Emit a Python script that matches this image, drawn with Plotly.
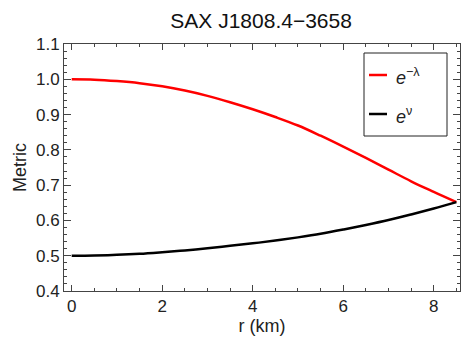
import plotly.graph_objects as go

r_km = [0, 0.5, 1, 1.5, 2, 2.5, 3, 3.5, 4, 4.5, 5, 5.5, 6, 6.5, 7, 7.5, 8, 8.5]
e_minus_lambda = [1.000, 0.999, 0.995, 0.989, 0.980, 0.968, 0.953, 0.935, 0.915,
                  0.893, 0.869, 0.840, 0.809, 0.777, 0.744, 0.711, 0.681, 0.652]
e_nu = [0.500, 0.5007, 0.5025, 0.5055, 0.510, 0.515, 0.521, 0.528, 0.535,
        0.543, 0.552, 0.562, 0.574, 0.587, 0.601, 0.617, 0.634, 0.652]
legend_labels = ["<i>e</i><sup>−λ</sup>", "<i>e</i><sup>ν</sup>"]
legend_colors = ["#ff0000", "#000000"]

font_family = "Liberation Sans, Arial, sans-serif"
frame_col = "#444444"
x_range = [-0.17, 8.58]
y_range = [0.4, 1.1]

fig = go.Figure()
fig.add_trace(go.Scatter(x=r_km, y=e_minus_lambda, mode="lines",
                         line=dict(color=legend_colors[0], width=2.5, shape="spline"),
                         name=legend_labels[0], showlegend=False))
fig.add_trace(go.Scatter(x=r_km, y=e_nu, mode="lines",
                         line=dict(color=legend_colors[1], width=2.5, shape="spline"),
                         name=legend_labels[1], showlegend=False))
# invisible trace to activate the mirrored axes
fig.add_trace(go.Scatter(x=[x_range[0]], y=[y_range[0]], xaxis="x2", yaxis="y2",
                         mode="markers", marker=dict(opacity=0), showlegend=False, hoverinfo="skip"))

axis_common = dict(
    showgrid=False, zeroline=False, showline=True, linecolor=frame_col, linewidth=1,
    ticks="inside", tickcolor=frame_col,
    tickfont=dict(family=font_family, size=17, color="#222"),
)
xt = dict(tickmode="array", tickvals=[0, 2, 4, 6, 8], ticklen=6, tickwidth=1,
          minor=dict(dtick=0.5, tick0=0, ticks="inside", ticklen=3, tickcolor=frame_col))
yt = dict(tickmode="array", tickvals=[0.4, 0.5, 0.6, 0.7, 0.8, 0.9, 1.0, 1.1],
          ticktext=["0.4", "0.5", "0.6", "0.7", "0.8", "0.9", "1.0", "1.1"],
          ticklen=7, tickwidth=1,
          minor=dict(dtick=0.02, tick0=0.4, ticks="inside", ticklen=3, tickcolor=frame_col))

fig.update_layout(
    xaxis=dict(range=x_range, **xt, **axis_common,
               title=dict(text="r (km)", font=dict(family=font_family, size=18, color="#222"), standoff=2)),
    yaxis=dict(range=y_range, **yt, **axis_common,
               title=dict(text="Metric", font=dict(family=font_family, size=18, color="#222"), standoff=4)),
    xaxis2=dict(range=x_range, overlaying="x", side="top", anchor="y", showticklabels=False, **xt, **axis_common),
    yaxis2=dict(range=y_range, overlaying="y", side="right", anchor="x", showticklabels=False, **yt, **axis_common),
)

# manual legend (pixel positions converted to paper coordinates)
L, R, T, B = 64, 460, 44, 291
def px(xp):
    return (xp - L) / (R - L)
def py(yp):
    return (B - yp) / (B - T)

shapes = [dict(type="rect", xref="paper", yref="paper", x0=px(364), x1=px(447), y0=py(136), y1=py(53),
               line=dict(color="#222", width=1), fillcolor="white", layer="above")]
annotations = []
for i, (lab, col) in enumerate(zip(legend_labels, legend_colors)):
    yy = 75 + i * 39
    shapes.append(dict(type="line", xref="paper", yref="paper", x0=px(369), x1=px(387), y0=py(yy), y1=py(yy),
                       line=dict(color=col, width=2.5), layer="above"))
    annotations.append(dict(text=lab, xref="paper", yref="paper", x=px(394), y=py(yy + 1),
                            xanchor="left", yanchor="middle", showarrow=False,
                            font=dict(family=font_family, size=18, color="#222")))

fig.update_layout(
    width=463, height=343,
    margin=dict(l=L, r=463 - R, t=T, b=343 - B),
    paper_bgcolor="white", plot_bgcolor="white",
    title=dict(text="SAX J1808.4−3658", x=0.564, xanchor="center", y=0.94, yanchor="middle",
               font=dict(family=font_family, size=21, color="#111")),
    shapes=shapes, annotations=annotations,
    showlegend=False,
)

fig.write_html("out.html")
